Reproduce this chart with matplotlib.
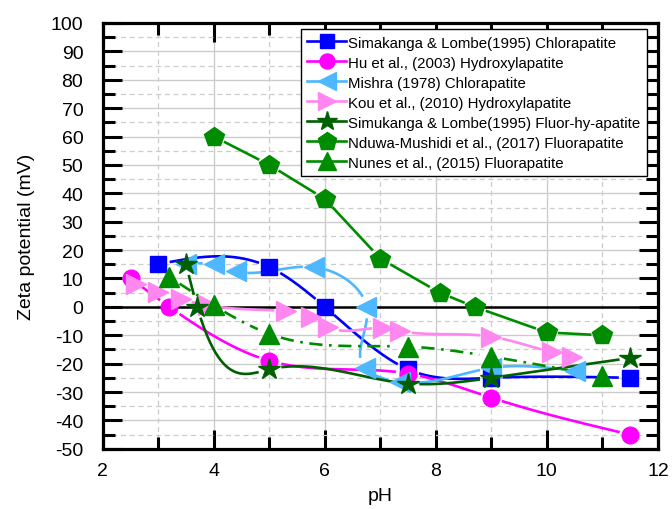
import numpy as np
import matplotlib.pyplot as plt

plt.rcParams['font.family'] = ['Liberation Sans', 'DejaVu Sans']
plt.rcParams['axes.unicode_minus'] = False

# Simakanga & Lombe (1995) Chlorapatite
ph_sim_cl = [3.0, 5.0, 6.0, 7.5, 9.0, 11.5]
zp_sim_cl = [15, 14, 0, -22, -25, -25]
# Hu et al. (2003) Hydroxylapatite
ph_hu = [2.5, 3.2, 5.0, 7.5, 9.0, 11.5]
zp_hu = [10, 0, -19, -23.5, -32, -45]
# Mishra (1978) Chlorapatite
ph_mishra = [3.5, 4.0, 4.4, 5.8, 6.75, 6.72, 7.35, 9.0, 10.5]
zp_mishra = [15, 15, 12.5, 14, 0, -21.5, -26.5, -21.5, -22.5]
# Kou et al. (2010) Hydroxylapatite
ph_kou = [2.6, 3.0, 3.4, 3.9, 5.3, 5.75, 6.05, 7.05, 7.35, 9.0, 10.1, 10.45]
zp_kou = [8, 5.3, 2.8, 0.5, -1.5, -3.5, -7, -7.5, -8.5, -10.5, -16, -17.5]
# Simukanga & Lombe (1995) Fluor-hy-apatite
ph_sim_f = [3.5, 3.7, 5.0, 7.5, 9.0, 11.5]
zp_sim_f = [15, 0, -22, -27, -25, -18]
# Nduwa-Mushidi et al. (2017) Fluorapatite
ph_nduwa = [4.0, 5.0, 6.0, 7.0, 8.07, 8.7, 10.0, 11.0]
zp_nduwa = [60, 50, 38, 17, 5, 0, -9, -10]
# Nunes et al. (2015) Fluorapatite
ph_nunes = [3.2, 4.0, 5.0, 7.5, 9.0, 11.0]
zp_nunes = [10.5, 0.5, -9.5, -14, -17.5, -24.5]


def natural_spline(x, y, n=300):
    x = np.asarray(x, float)
    y = np.asarray(y, float)
    k = len(x)
    h = np.diff(x)
    A = np.zeros((k, k))
    b = np.zeros(k)
    A[0, 0] = A[-1, -1] = 1
    for i in range(1, k - 1):
        A[i, i - 1] = h[i - 1]
        A[i, i] = 2 * (h[i - 1] + h[i])
        A[i, i + 1] = h[i]
        b[i] = 6 * ((y[i + 1] - y[i]) / h[i] - (y[i] - y[i - 1]) / h[i - 1])
    M = np.linalg.solve(A, b)
    xs = np.linspace(x[0], x[-1], n)
    idx = np.clip(np.searchsorted(x, xs) - 1, 0, k - 2)
    x0, x1 = x[idx], x[idx + 1]
    hh = x1 - x0
    a = (x1 - xs) / hh
    c = (xs - x0) / hh
    ys = (a * y[idx] + c * y[idx + 1]
          + ((a ** 3 - a) * M[idx] + (c ** 3 - c) * M[idx + 1]) * hh ** 2 / 6)
    return xs, ys


def param_spline(x, y, n=400):
    x = np.asarray(x, float)
    y = np.asarray(y, float)
    d = np.hypot(np.diff(x) / 10, np.diff(y) / 150)
    t = np.concatenate([[0], np.cumsum(d)])
    _, xs = natural_spline(t, x, n)
    _, ys = natural_spline(t, y, n)
    return xs, ys


fig = plt.figure(figsize=(6.72, 5.10), dpi=100)
ax = fig.add_axes([0.153, 0.118, 0.826, 0.835])
ax.set_xlim(2, 12)
ax.set_ylim(-50, 100)


def gapped(xs, ys, px, py, r=12):
    # break the line near each marker, like Origin does
    pts = ax.transData.transform(np.column_stack([xs, ys]))
    mk = ax.transData.transform(np.column_stack([px, py]))
    ys = ys.copy()
    for m in mk:
        ys[np.hypot(pts[:, 0] - m[0], pts[:, 1] - m[1]) < r] = np.nan
    return xs, ys


series = [
    (ph_sim_cl, zp_sim_cl, '#0000ff', 's', 11, '-', 'spline',
     'Simakanga & Lombe(1995) Chlorapatite'),
    (ph_hu, zp_hu, '#ff00ff', 'o', 12, '-', 'spline',
     'Hu et al., (2003) Hydroxylapatite'),
    (ph_mishra, zp_mishra, '#4db8ff', '<', 14, '-', 'param',
     'Mishra (1978) Chlorapatite'),
    (ph_kou, zp_kou, '#ff88f0', '>', 14, '-', 'spline',
     'Kou et al., (2010) Hydroxylapatite'),
    (ph_sim_f, zp_sim_f, '#006000', '*', 16, '-', 'spline',
     'Simukanga & Lombe(1995) Fluor-hy-apatite'),
    (ph_nduwa, zp_nduwa, '#008c00', 'p', 15, '-', 'line',
     'Nduwa-Mushidi et al., (2017) Fluorapatite'),
    (ph_nunes, zp_nunes, '#008c00', '^', 14, (0, (5, 2.5, 1, 2.5)), 'spline',
     'Nunes et al., (2015) Fluorapatite'),
]

handles = []
for px, py, col, mk, ms, ls, kind, lab in series:
    if kind == 'spline':
        xs, ys = natural_spline(px, py)
    elif kind == 'param':
        xs, ys = param_spline(px, py)
    else:
        xs = np.concatenate([np.linspace(px[i], px[i + 1], 60) for i in range(len(px) - 1)])
        ys = np.concatenate([np.linspace(py[i], py[i + 1], 60) for i in range(len(py) - 1)])
    xs, ys = gapped(xs, ys, px, py)
    ax.plot(xs, ys, color=col, lw=1.9, ls=ls, zorder=3)
    ax.plot(px, py, ls='none', marker=mk, ms=ms, color=col, mec=col, zorder=4)
    h, = ax.plot([], [], color=col, lw=1.9, ls='-', marker=mk, ms=ms * 0.9,
                 mec=col, label=lab)
    handles.append(h)

ax.axhline(0, color='black', lw=1.8, zorder=2)

ax.set_xticks(np.arange(2, 13, 2))
ax.set_xticks(np.arange(3, 12, 2), minor=True)
ax.set_yticks(np.arange(-50, 101, 10))
ax.set_yticks(np.arange(-45, 100, 10), minor=True)
ax.grid(which='major', color='#cccccc', lw=1.0, ls='-', zorder=0)
ax.grid(which='minor', color='#cccccc', lw=0.9, ls=(0, (4, 3)), zorder=0)
ax.set_axisbelow(True)
ax.tick_params(which='both', direction='in', top=True, right=True, width=2.2,
               labelsize=14, colors='black')
ax.tick_params(which='major', length=14)
ax.tick_params(which='minor', length=8.5)
ax.tick_params(axis='x', which='major', pad=9.5)
ax.tick_params(axis='y', which='major', pad=14)
for s in ax.spines.values():
    s.set_linewidth(2.3)

ax.set_xlabel('pH', fontsize=14, labelpad=6)
ax.set_ylabel('Zeta potential (mV)', fontsize=14, labelpad=11)

leg = ax.legend(handles=handles, loc='upper right', bbox_to_anchor=(0.98, 0.986),
                fontsize=10.8, frameon=True, fancybox=False, edgecolor='black',
                framealpha=1, handlelength=2.6, handletextpad=0.1,
                labelspacing=0.4, borderpad=0.45, borderaxespad=0)
leg.get_frame().set_linewidth(1.0)

fig.savefig('out.png', dpi=100)
